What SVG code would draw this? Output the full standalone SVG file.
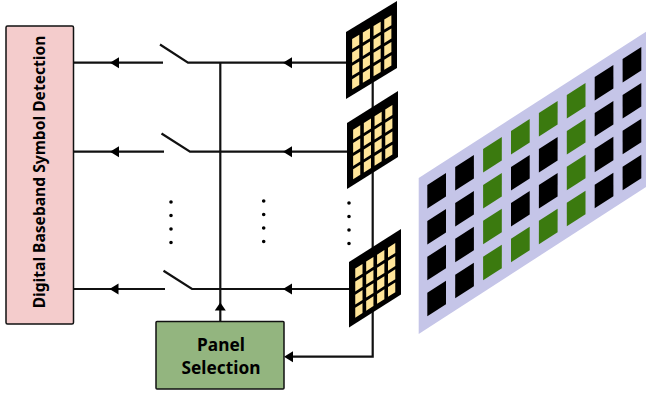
<svg xmlns="http://www.w3.org/2000/svg" width="646" height="394" viewBox="0 0 646 394">
<style>
.w{fill:none;stroke:#111;stroke-width:2.200}
.a{fill:#000}
.d{fill:#000;stroke:#000;stroke-width:3.600;stroke-linecap:round;stroke-dasharray:0 13.500}
.t{font-family:"Noto Sans","DejaVu Sans",sans-serif;font-weight:700;fill:#000;text-anchor:middle}
.c{fill:#000}
.g{fill:#3b7a0f}
.box{stroke:#111;stroke-width:1.500}
</style>
<defs>
<polygon id="cell" points="0,0 18.700,-12 18.700,11.500 0,23.500"/>
<g id="ant">
<polygon points="0,0 100,0 100,100 0,100" fill="#000"/>
<g fill="#ffe599">
<rect x="12" y="16" width="14" height="15"/><rect x="33" y="16" width="14" height="15"/><rect x="54" y="16" width="14" height="15"/><rect x="75" y="16" width="14" height="15"/>
<rect x="12" y="36" width="14" height="15"/><rect x="33" y="36" width="14" height="15"/><rect x="54" y="36" width="14" height="15"/><rect x="75" y="36" width="14" height="15"/>
<rect x="12" y="56" width="14" height="15"/><rect x="33" y="56" width="14" height="15"/><rect x="54" y="56" width="14" height="15"/><rect x="75" y="56" width="14" height="15"/>
<rect x="12" y="76" width="14" height="15"/><rect x="33" y="76" width="14" height="15"/><rect x="54" y="76" width="14" height="15"/><rect x="75" y="76" width="14" height="15"/>
</g>
</g>
</defs>
<g id="connectors">
<path class="w" d="M74 62.700H163M160 44.500L188 62.700H346"/>
<path class="w" d="M74 151.700H164M161.500 133.500L190 151.700H347"/>
<path class="w" d="M74 289H165M163.500 270.700L192 289H350"/>
<path class="w" d="M220.300 62.700V322"/>
<path class="w" d="M372.700 80V356.700H290"/>
<polygon class="a" points="110,62.700 119,57.200 119,68.200"/>
<polygon class="a" points="110,151.700 119,146.200 119,157.200"/>
<polygon class="a" points="109.500,289 118.500,283.500 118.500,294.500"/>
<polygon class="a" points="283,62.700 292,57.200 292,68.200"/>
<polygon class="a" points="283,151.700 292,146.200 292,157.200"/>
<polygon class="a" points="283,289 292,283.500 292,294.500"/>
<polygon class="a" points="220.300,302.500 214.800,310.500 225.800,310.500"/>
<polygon class="a" points="284,356.700 293,351.200 293,362.200"/>
</g>
<g id="dots">
<path class="d" d="M171 202V243"/>
<path class="d" d="M263.700 201V242"/>
<path class="d" d="M349 203V244"/>
</g>
<g id="detector">
<rect class="box" x="6" y="26" width="67.500" height="298" rx="1.500" fill="#f4cccc"/>
<text class="t" font-size="15.600" transform="translate(45,172) rotate(-90)">Digital Baseband Symbol Detection</text>
</g>
<g id="panel-selection">
<rect class="box" x="156" y="321.500" width="128" height="67.500" rx="1" fill="#93b57f"/>
<text class="t" font-size="17.300" x="221" y="350.500">Panel</text>
<text class="t" font-size="17.300" x="221" y="374">Selection</text>
</g>
<g id="antenna-1"><use href="#ant" transform="matrix(.51 -.31 0 .67 346 32)"/></g>
<g id="antenna-2"><use href="#ant" transform="matrix(.51 -.32 0 .66 347 123)"/></g>
<g id="antenna-3"><use href="#ant" transform="matrix(.52 -.33 0 .655 349 262)"/></g>
<g id="large-array">
<polygon points="418.700,178 646,31.700 646,187 418.700,334" fill="#c5c5e8"/>
<g class="c">
<use href="#cell" x="427.300" y="185"/><use href="#cell" x="427.300" y="220.900"/><use href="#cell" x="427.300" y="256.800"/><use href="#cell" x="427.300" y="292.700"/>
<use href="#cell" x="455.200" y="167"/><use href="#cell" x="455.200" y="202.900"/><use href="#cell" x="455.200" y="238.800"/><use href="#cell" x="455.200" y="274.700"/>
<use href="#cell" x="511" y="167"/><use href="#cell" x="511" y="202.900"/>
<use href="#cell" x="538.900" y="149"/><use href="#cell" x="538.900" y="184.900"/>
<use href="#cell" x="594.700" y="77"/><use href="#cell" x="594.700" y="112.900"/><use href="#cell" x="594.700" y="148.800"/><use href="#cell" x="594.700" y="184.700"/>
<use href="#cell" x="622.600" y="59"/><use href="#cell" x="622.600" y="94.900"/><use href="#cell" x="622.600" y="130.800"/><use href="#cell" x="622.600" y="166.700"/>
</g>
<g class="g">
<use href="#cell" x="483.100" y="149"/><use href="#cell" x="483.100" y="184.900"/><use href="#cell" x="483.100" y="220.800"/><use href="#cell" x="483.100" y="256.700"/>
<use href="#cell" x="511" y="131"/><use href="#cell" x="511" y="238.700"/>
<use href="#cell" x="538.900" y="113"/><use href="#cell" x="538.900" y="220.700"/>
<use href="#cell" x="566.800" y="95"/><use href="#cell" x="566.800" y="130.900"/><use href="#cell" x="566.800" y="166.800"/><use href="#cell" x="566.800" y="202.700"/>
</g>
</g>
</svg>
